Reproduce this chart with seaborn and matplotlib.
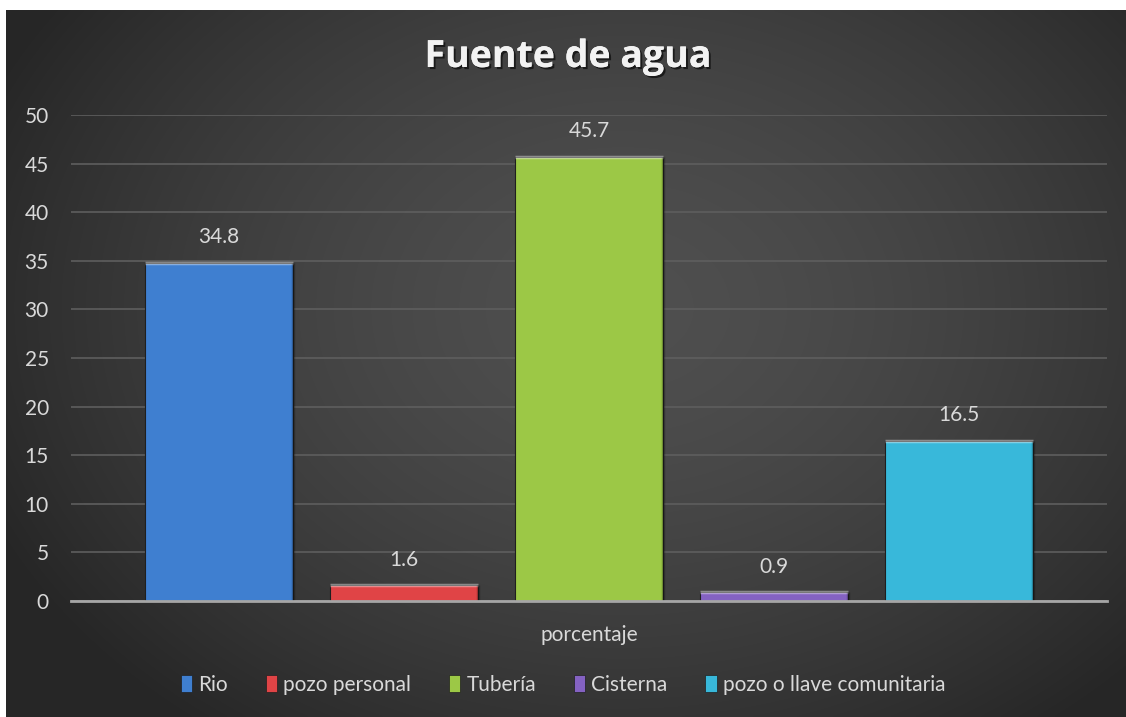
import numpy as np
import pandas as pd
import matplotlib
matplotlib.use("Agg")
import matplotlib.pyplot as plt
import matplotlib.patheffects as pe
from matplotlib.patches import Patch
import seaborn as sns

categories = ["Rio", "pozo personal", "Tubería", "Cisterna", "pozo o llave comunitaria"]
values = [34.8, 1.6, 45.7, 0.9, 16.5]
colors = ["#3F7FD0", "#E04446", "#9CC846", "#8462C2", "#38B8DA"]
yticks = [0, 5, 10, 15, 20, 25, 30, 35, 40, 45, 50]
group_label = "porcentaje"
title = "Fuente de agua"

sns.set_theme(style="dark")
plt.rcParams['font.family'] = ['Lato', 'DejaVu Sans']

W, H = 1126, 717
fig = plt.figure(figsize=(W / 100, H / 100), dpi=100, facecolor="white")

# background gradient
bg = fig.add_axes([6 / W, 0, 1 - 6 / W, 1 - 10 / H])
bg.set_axis_off()
ny, nx = 300, 470
yy, xx = np.mgrid[0:ny, 0:nx]
cx, cy = nx * 0.55, ny * 0.42
r = np.sqrt(((xx - cx) / (nx * 0.62)) ** 2 + ((yy - cy) / (ny * 0.75)) ** 2)
r = np.clip(r, 0, 1)
lv = 0.31 - 0.16 * r ** 1.6
img = np.dstack([lv, lv, lv])
bg.imshow(img, aspect="auto", extent=[0, 1, 0, 1], interpolation="bilinear")
bg.set_xlim(0, 1)
bg.set_ylim(0, 1)

ax = fig.add_axes([71 / W, 1 - 601 / H, (1107 - 71) / W, (601 - 115) / H])
ax.patch.set_alpha(0)

df = pd.DataFrame({"cat": categories, "val": values})
sns.barplot(data=df, x="cat", y="val", hue="cat", palette=colors, order=categories,
            hue_order=categories, dodge=False, width=0.8, ax=ax, legend=False,
            saturation=1, edgecolor="#1f1f1f", linewidth=0.8, zorder=3)

ax.set_xlim(-0.8, 4.8)
ax.set_ylim(0, 50)
ax.set_yticks(yticks)
ax.set_yticklabels([str(t) for t in yticks], color="#d9d9d9", fontsize=15)
ax.tick_params(axis="y", length=0, pad=16)
ax.set_xticks([2])
ax.set_xticklabels([group_label], color="#d9d9d9", fontsize=15)
ax.tick_params(axis="x", length=0, pad=17)
ax.set_xlabel("")
ax.set_ylabel("")
ax.grid(axis="y", color="#5e5e5e", linewidth=1.2, zorder=0)
ax.grid(axis="x", visible=False)
for s in ["top", "right", "left"]:
    ax.spines[s].set_visible(False)
ax.spines["bottom"].set_color("#a6a6a6")
ax.spines["bottom"].set_linewidth(2)
ax.spines["bottom"].set_zorder(4)

# bevel hint + value labels
for p in ax.patches:
    x0 = p.get_x()
    w = p.get_width()
    h = p.get_height()
    ax.plot([x0, x0 + w], [h, h], color="white", alpha=0.4, linewidth=2.5, zorder=4,
            solid_capstyle="butt")
    ax.plot([x0 + w, x0 + w], [0, h], color="black", alpha=0.25, linewidth=2.5, zorder=4,
            solid_capstyle="butt")
    ax.text(x0 + w / 2, h + 1.6, f"{h:.1f}", ha="center", va="bottom",
            color="#d9d9d9", fontsize=15, zorder=5)

fig.text(568 / W, 1 - 57 / H, title, ha="center", va="center", color="#f2f2f2",
         fontsize=27, fontweight="bold", family=["Open Sans", "DejaVu Sans"],
         path_effects=[pe.withSimplePatchShadow(offset=(1.5, -1.5), shadow_rgbFace="black", alpha=0.6),
                       pe.Normal()])

handles = [Patch(facecolor=c, edgecolor="#1f1f1f", linewidth=0.5) for c in colors]
leg = fig.legend(handles, categories, loc="center", bbox_to_anchor=(0.5, 1 - 685 / H),
                 ncol=5, frameon=False, fontsize=15, handlelength=0.55, handleheight=0.85,
                 handletextpad=0.3, columnspacing=1.8)
for t in leg.get_texts():
    t.set_color("#d9d9d9")

fig.savefig("out.png", dpi=100, facecolor="white")
